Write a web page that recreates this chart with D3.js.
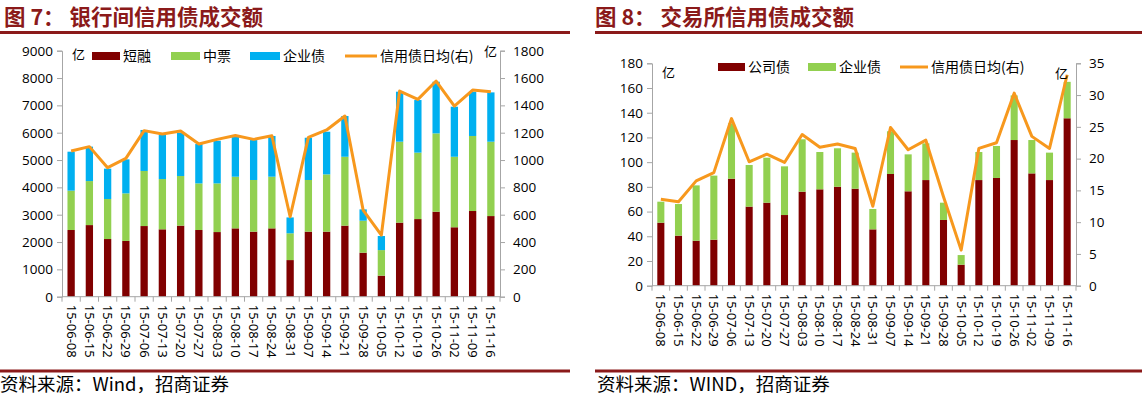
<!DOCTYPE html>
<html><head><meta charset="utf-8">
<script src="https://cdn.jsdelivr.net/npm/d3@7/dist/d3.min.js"></script>
<style>
body{margin:0;background:#fff;}
text{font-family:"Noto Sans","Noto Sans CJK SC",sans-serif;}
</style></head>
<body><svg id="c" width="1142" height="405"></svg>
<script>
// ---------- DATA ----------
const dates = ["15-06-08","15-06-15","15-06-22","15-06-29","15-07-06","15-07-13","15-07-20","15-07-27","15-08-03","15-08-10","15-08-17","15-08-24","15-08-31","15-09-07","15-09-14","15-09-21","15-09-28","15-10-05","15-10-12","15-10-19","15-10-26","15-11-02","15-11-09","15-11-16"];
// 图7 银行间 (亿)
const ibShort = [2440,2620,2110,2040,2585,2465,2600,2440,2365,2500,2380,2500,1340,2380,2380,2600,1610,770,2710,2840,3110,2540,3135,2950];
const ibMTN   = [1440,1610,1465,1740,2015,1840,1815,1705,1780,1890,1890,1890,980,1890,2095,2520,1170,935,2960,2430,2865,2580,2745,2720];
const ibCorp  = [1425,1260,1110,1245,1500,1610,1585,1440,1560,1490,1460,1490,580,1545,1560,1490,415,515,1830,1925,1890,1830,1620,1805];
const ibDaily = [1066,1098,944,1012,1215,1190,1212,1117,1151,1180,1151,1178,585,1166,1220,1322,634,451,1505,1444,1578,1395,1512,1500];
const ibLeftTicks = [0,1000,2000,3000,4000,5000,6000,7000,8000,9000];
const ibRightTicks = [0,200,400,600,800,1000,1200,1400,1600,1800];
// 图8 交易所 (亿)
const exCompany = [51.0,40.5,36.4,37.2,86.6,64.0,67.2,57.2,76.1,78.0,80.1,78.5,45.6,90.4,76.4,85.5,53.2,17.0,85.5,87.2,117.9,90.9,85.5,135.5];
const exEnterprise = [17.0,25.6,44.8,51.9,44.8,33.7,36.4,39.4,42.4,30.2,31.1,29.2,16.5,34.6,29.9,29.7,14.0,7.8,22.7,25.9,36.1,27.0,22.2,29.5];
const exDaily = [13.6,13.2,16.5,17.8,26.3,19.5,20.7,19.4,23.8,21.8,22.3,21.6,12.5,24.9,21.4,22.9,14.0,5.6,21.6,22.5,30.3,23.5,21.6,33.2];
const exLeftTicks = [0,20,40,60,80,100,120,140,160,180];
const exRightTicks = [0,5,10,15,20,25,30,35];

const C_RED="#800000", C_GREEN="#92D050", C_BLUE="#00B0F0", C_LINE="#F7981D", C_AX="#A6A6A6", C_TITLE="#8B1A1A";

const svg = d3.select("#c");

function chart(cfg){
  const g = svg.append("g");
  const x = d3.scaleBand().domain(dates).range([cfg.x0,cfg.x1]).paddingInner(0.6).paddingOuter(0.3);
  const y = d3.scaleLinear().domain([0,cfg.leftTicks[cfg.leftTicks.length-1]]).range([cfg.yb,cfg.yt]);
  const y2 = d3.scaleLinear().domain([0,cfg.rightTicks[cfg.rightTicks.length-1]]).range([cfg.yb,cfg.yt]);
  // stacked bars
  const rows = dates.map((d,i)=>{const o={date:d}; cfg.series.forEach(s=>o[s.key]=s.values[i]); return o;});
  const stack = d3.stack().keys(cfg.series.map(s=>s.key))(rows);
  stack.forEach((layer,li)=>{
    g.append("g").attr("fill",cfg.series[li].color).selectAll("rect").data(layer).join("rect")
      .attr("x",d=>x(d.data.date)).attr("width",x.bandwidth())
      .attr("y",d=>y(d[1])).attr("height",d=>y(d[0])-y(d[1]));
  });
  // axes
  const fmt = d3.format("d");
  const la = d3.axisLeft(y).tickValues(cfg.leftTicks).tickFormat(fmt).tickSize(5).tickPadding(4);
  const lg = g.append("g").attr("transform",`translate(${cfg.x0},0)`).call(la);
  const ra = d3.axisRight(y2).tickValues(cfg.rightTicks).tickFormat(fmt).tickSize(5).tickPadding(8);
  const rg = g.append("g").attr("transform",`translate(${cfg.x1},0)`).call(ra);
  [lg,rg].forEach(a=>{
    a.select(".domain").attr("stroke",C_AX);
    a.selectAll(".tick line").attr("stroke",C_AX);
    a.selectAll(".tick text").attr("fill","#000").style("font-size","13.5px").style("font-family","'Open Sans',sans-serif");
  });
  // bottom axis
  g.append("line").attr("x1",cfg.x0).attr("x2",cfg.x1).attr("y1",cfg.yb).attr("y2",cfg.yb).attr("stroke",C_AX);
  const gap = (x.step()-x.bandwidth())/2;
  const bounds = dates.map(d=>x(d)-gap).concat([x(dates[dates.length-1])+x.bandwidth()+gap]);
  g.append("g").selectAll("line").data(bounds).join("line")
    .attr("x1",d=>d).attr("x2",d=>d).attr("y1",cfg.yb).attr("y2",cfg.yb+5).attr("stroke",C_AX);
  g.append("g").selectAll("text").data(dates).join("text")
    .attr("transform",d=>`translate(${x(d)+x.bandwidth()/2},${cfg.yb+cfg.lblOff}) rotate(90)`)
    .attr("dy","0.35em").attr("text-anchor","start")
    .style("font-size","13px").text(d=>d);
  // line
  const line = d3.line().x((d,i)=>x(dates[i])+x.bandwidth()/2).y(d=>y2(d));
  g.append("path").datum(cfg.daily).attr("d",line).attr("fill","none").attr("stroke",C_LINE).attr("stroke-width",3).attr("stroke-linejoin","round");
  // units
  g.append("text").attr("x",cfg.unitL[0]).attr("y",cfg.unitL[1]).attr("dy","0.35em").style("font-size","13px").text("亿").style("font-family","'Noto Sans CJK SC'");
  g.append("text").attr("x",cfg.unitR[0]).attr("y",cfg.unitR[1]).attr("dy","0.35em").style("font-size","13px").text("亿").style("font-family","'Noto Sans CJK SC'");
  // legend
  cfg.legend.forEach(l=>{
    if(l.type==="rect"){
      g.append("rect").attr("x",l.x).attr("y",cfg.legY-4).attr("width",l.w).attr("height",8).attr("fill",l.color);
    } else {
      g.append("line").attr("x1",l.x).attr("x2",l.x+l.w).attr("y1",cfg.legY).attr("y2",cfg.legY).attr("stroke",l.color).attr("stroke-width",3);
    }
    g.append("text").attr("x",l.x+l.w+3).attr("y",cfg.legY).attr("dy","0.36em").style("font-size","14px")
      .style("font-family","'Noto Sans CJK SC'").text(l.label);
  });
}

chart({x0:62,x1:500,yb:296.7,yt:50.7,leftTicks:ibLeftTicks,rightTicks:ibRightTicks,lblOff:8,
  series:[{key:"短融",values:ibShort,color:C_RED},{key:"中票",values:ibMTN,color:C_GREEN},{key:"企业债",values:ibCorp,color:C_BLUE}],
  daily:ibDaily, unitL:[72,54], unitR:[484,51], legY:56,
  legend:[{type:"rect",x:92,w:28,color:C_RED,label:"短融"},{type:"rect",x:171,w:29,color:C_GREEN,label:"中票"},
          {type:"rect",x:250,w:30,color:C_BLUE,label:"企业债"},{type:"line",x:345,w:32,color:C_LINE,label:"信用债日均(右)"}]});

chart({x0:652,x1:1076,yb:285.7,yt:63.3,leftTicks:exLeftTicks,rightTicks:exRightTicks,lblOff:8,
  series:[{key:"公司债",values:exCompany,color:C_RED},{key:"企业债",values:exEnterprise,color:C_GREEN}],
  daily:exDaily, unitL:[662,72], unitR:[1055,73], legY:67,
  legend:[{type:"rect",x:718,w:27,color:C_RED,label:"公司债"},{type:"rect",x:808,w:28,color:C_GREEN,label:"企业债"},
          {type:"line",x:900,w:28,color:C_LINE,label:"信用债日均(右)"}]});

// titles & frame lines
const titles=[{x:4,t:"图 7： 银行间信用债成交额"},{x:595,t:"图 8： 交易所信用债成交额"}];
titles.forEach(t=>svg.append("text").attr("x",t.x).attr("y",25).attr("fill",C_TITLE)
  .style("font-size","21.5px").style("font-weight","bold").style("font-family","'Noto Sans CJK SC'").text(t.t));
[[0,570],[595,1142]].forEach(([a,b])=>{
  svg.append("line").attr("x1",a).attr("x2",b).attr("y1",32.5).attr("y2",32.5).attr("stroke",C_TITLE).attr("stroke-width",3);
  svg.append("line").attr("x1",a).attr("x2",b).attr("y1",371).attr("y2",371).attr("stroke",C_TITLE).attr("stroke-width",3);
});
svg.append("text").attr("x",0).attr("y",391).style("font-size","18.5px").style("font-family","'Noto Sans CJK SC'").text("资料来源：Wind，招商证券");
svg.append("text").attr("x",597).attr("y",391).style("font-size","18.5px").style("font-family","'Noto Sans CJK SC'").text("资料来源：WIND，招商证券");
</script></body></html>
